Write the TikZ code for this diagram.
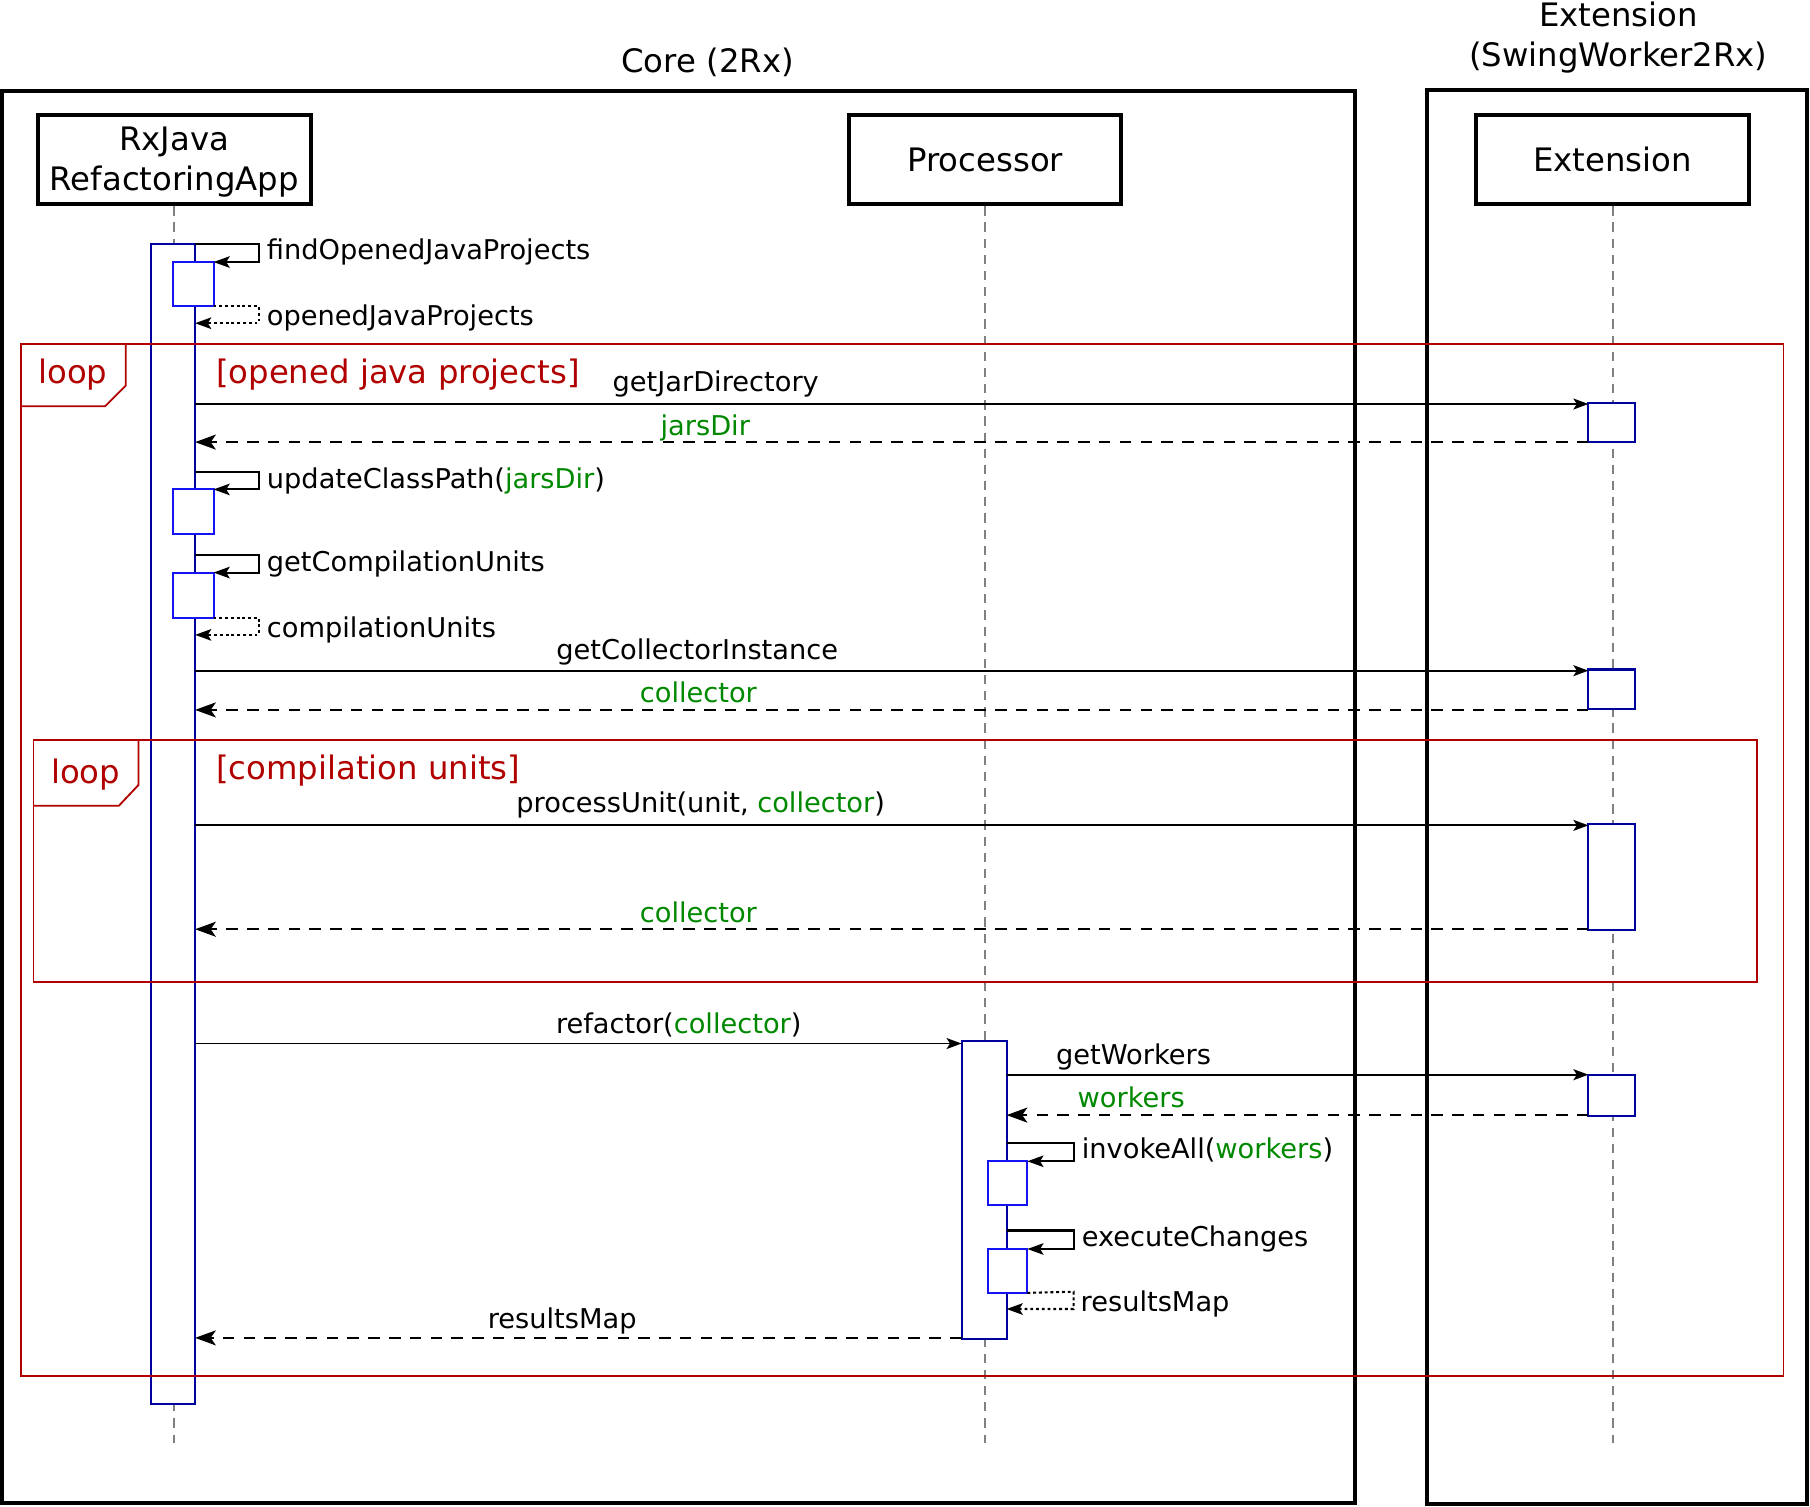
\documentclass[tikz,border=0pt]{standalone}
\usepackage{fontspec}
\setmainfont{DejaVu Sans}
\usetikzlibrary{arrows.meta}
\definecolor{loopred}{HTML}{B00000}
\definecolor{argg}{HTML}{008800}
\definecolor{navyb}{HTML}{00009C}
\definecolor{nestb}{HTML}{1414F5}
\definecolor{lgray}{HTML}{808080}
\newcommand{\msgfont}{\fontsize{23.6}{28}\selectfont}
\newcommand{\bigfont}{\fontsize{28}{35}\selectfont}
\begin{document}
\begin{tikzpicture}[x=1pt,y=-1pt,
  bigframe/.style={draw=black, line width=3.5pt},
  hdr/.style={draw=black, line width=3.5pt, minimum width=236pt, minimum height=77pt, inner sep=0pt, align=center, font=\bigfont},
  life/.style={draw=lgray, line width=1.6pt, dash pattern=on 8pt off 6pt},
  act/.style={draw=navyb, line width=1.8pt, fill=white, inner sep=0pt, outer sep=0pt, anchor=north west},
  nest/.style={draw=nestb, line width=1.8pt, fill=white, inner sep=0pt, outer sep=0pt, anchor=north west},
  loopframe/.style={draw=loopred, line width=1.6pt},
  looplbl/.style={text=loopred, font=\bigfont, anchor=base west, inner sep=0pt},
  msg/.style={draw=black, line width=1.6pt, -{Stealth[length=13pt,width=9.5pt,inset=3pt]}},
  ret/.style={draw=black, line width=1.8pt, dash pattern=on 10pt off 8pt, -{Stealth[length=18pt,width=13pt,inset=4.5pt]}},
  selfmsg/.style={draw=black, line width=1.8pt, -{Stealth[length=14pt,width=10pt,inset=3pt]}},
  selfret/.style={draw=black, line width=1.8pt, dash pattern=on 2.5pt off 2.5pt, -{Stealth[length=14pt,width=10pt,inset=3pt]}},
  lbl/.style={font=\msgfont, inner sep=0pt, anchor=base},
  lblw/.style={font=\msgfont, inner sep=0pt, anchor=base west}
]
\useasboundingbox (0,0) rectangle (1568,1305);

% titles and frames
\node[font=\bigfont, anchor=base, inner sep=0pt] (coretitle) at (613,63) {Core (2Rx)};
\node[font=\bigfont, anchor=base, inner sep=0pt] (exttitle1) at (1402,23) {Extension};
\node[font=\bigfont, anchor=base, inner sep=0pt] (exttitle2) at (1402,58) {(SwingWorker2Rx)};
\draw[bigframe] (2,79) rectangle (1174,1302);
\draw[bigframe] (1236,78) rectangle (1565,1303);

% headers
\node[hdr] (rx) at (151,138.5) {};
\node[font=\bigfont, align=center, inner sep=0pt] (rxtext) at (151,140.5) {RxJava\\RefactoringApp};
\node[hdr] (proc) at (853.5,138.5) {Processor};
\node[hdr] (ext) at (1397,138.5) {Extension};

% lifelines
\coordinate (rxend) at (151,1250);
\coordinate (procend) at (853.5,1250);
\coordinate (extend) at (1397,1250);
\draw[life] (rx.south) -- (rxend);
\draw[life] (proc.south) -- (procend);
\draw[life] (ext.south) -- (extend);

% activation bars
\node[act, minimum width=38pt, minimum height=1005pt] (rxbar) at (131,211) {};
\node[act, minimum width=39pt, minimum height=258pt] (pbar) at (833,902) {};
\node[act, minimum width=40pt, minimum height=34pt] (e1) at (1376,349) {};
\node[act, minimum width=40pt, minimum height=34pt] (e2) at (1376,580) {};
\node[act, minimum width=40pt, minimum height=92pt] (e3) at (1376,714) {};
\node[act, minimum width=40pt, minimum height=36pt] (e4) at (1376,931) {};
\node[nest, minimum width=35pt, minimum height=38pt] (n1) at (150,227) {};
\node[nest, minimum width=35pt, minimum height=39pt] (n2) at (150,424) {};
\node[nest, minimum width=35pt, minimum height=39pt] (n3) at (150,496) {};
\node[nest, minimum width=34pt, minimum height=38pt] (n4) at (856,1006) {};
\node[nest, minimum width=34pt, minimum height=38pt] (n5) at (856,1082) {};

% loop frames
\draw[loopframe] (18,298) rectangle (1545,1192);
\draw[loopframe] (18,352) -- (91,352) -- (109,334) -- (109,298);
\node[looplbl] (loop1) at (33,332) {loop};
\node[looplbl] (guard1) at (187,332) {[opened java projects]};
\draw[loopframe] (29,641) rectangle (1522,851);
\draw[loopframe] (29,698) -- (103,698) -- (120,680) -- (120,641);
\node[looplbl] (loop2) at (44,679) {loop};
\node[looplbl] (guard2) at (187,675) {[compilation units]};

% messages
\draw[selfmsg] (rxbar.north east) -- (224,211) -- (224,227) -- (n1.north east);
\node[lblw] (l1) at (231,225) {findOpenedJavaProjects};
\draw[selfret] (n1.south east) -- (224,265) -- (224,280) -- (rxbar.east |- 0,280);
\node[lblw] (l2) at (231,282) {openedJavaProjects};

\draw[msg] (rxbar.east |- 0,350) -- (e1.west |- 0,350);
\node[lbl] (l3) at (620,339) {getJarDirectory};
\draw[ret] (e1.west |- 0,383) -- (rxbar.east |- 0,383);
\node[lbl, text=argg] (l4) at (611,377) {jarsDir};

\draw[selfmsg] (rxbar.east |- 0,409) -- (224,409) -- (224,424) -- (n2.north east);
\node[lblw] (l5) at (231,423) {updateClassPath(\textcolor{argg}{jarsDir})};
\draw[selfmsg] (rxbar.east |- 0,481) -- (224,481) -- (224,496) -- (n3.north east);
\node[lblw] (l6) at (231,495) {getCompilationUnits};
\draw[selfret] (n3.south east) -- (224,535) -- (224,550) -- (rxbar.east |- 0,550);
\node[lblw] (l7) at (231,552) {compilationUnits};

\draw[msg] (rxbar.east |- 0,581) -- (e2.west |- 0,581);
\node[lbl] (l8) at (604,571) {getCollectorInstance};
\draw[ret] (e2.west |- 0,615) -- (rxbar.east |- 0,615);
\node[lbl, text=argg] (l9) at (605,609) {collector};

\draw[msg] (rxbar.east |- 0,715) -- (e3.west |- 0,715);
\node[lbl] (l10) at (607,704) {processUnit(unit, \textcolor{argg}{collector})};
\draw[ret] (e3.west |- 0,805) -- (rxbar.east |- 0,805);
\node[lbl, text=argg] (l11) at (605,799) {collector};

\draw[msg] (rxbar.east |- 0,904) -- (pbar.west |- 0,904);
\node[lbl] (l12) at (588,895) {refactor(\textcolor{argg}{collector})};
\draw[msg] (pbar.east |- 0,931) -- (e4.west |- 0,931);
\node[lbl] (l13) at (982,922) {getWorkers};
\draw[ret] (e4.west |- 0,966) -- (pbar.east |- 0,966);
\node[lbl, text=argg] (l14) at (980,959) {workers};

\draw[selfmsg] (pbar.east |- 0,990) -- (930,990) -- (930,1006) -- (n4.north east);
\node[lblw] (l15) at (937,1004) {invokeAll(\textcolor{argg}{workers})};
\draw[selfmsg] (pbar.east |- 0,1066) -- (930,1066) -- (930,1082) -- (n5.north east);
\node[lblw] (l16) at (937,1080) {executeChanges};
\draw[selfret] (n5.south east) -- (930,1119) -- (930,1134) -- (pbar.east |- 0,1134);
\node[lblw] (l17) at (936,1136) {resultsMap};

\draw[ret] (pbar.west |- 0,1159) -- (rxbar.east |- 0,1159);
\node[lbl] (l18) at (487,1151) {resultsMap};
\end{tikzpicture}
\end{document}
